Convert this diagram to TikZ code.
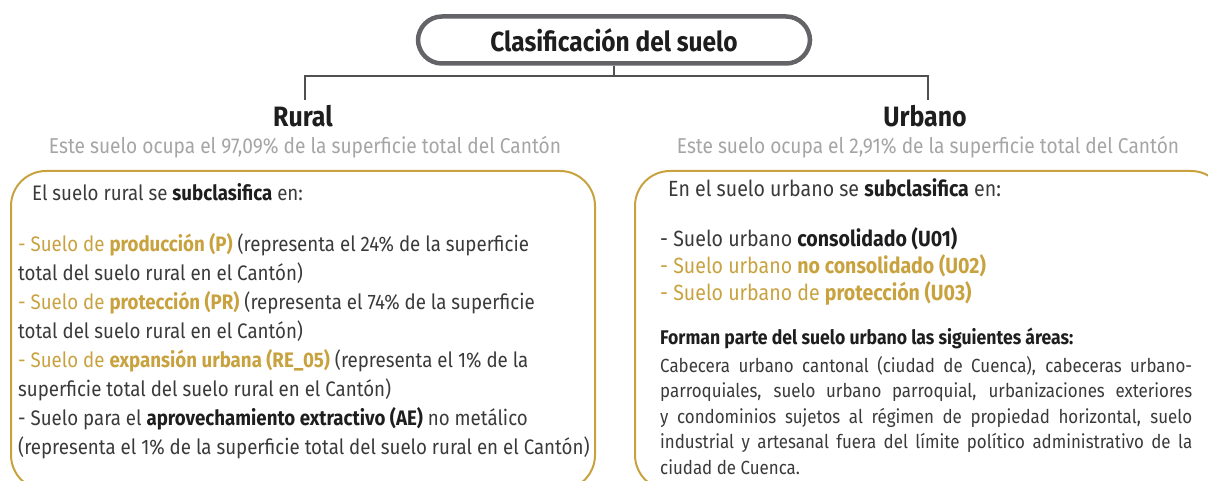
\documentclass[tikz,border=0pt]{standalone}
\usepackage{fontspec}
\setmainfont[FakeStretch=0.89]{Fira Sans}
\definecolor{gold}{RGB}{201,162,64}
\definecolor{framegray}{RGB}{100,100,104}
\definecolor{linegray}{RGB}{80,80,80}
\definecolor{bodygray}{RGB}{58,58,58}
\definecolor{subgray}{RGB}{165,165,165}
\definecolor{boldblack}{RGB}{30,30,30}
\tikzset{
  titlebox/.style={draw=framegray, line width=4.5pt, rounded corners=24pt, minimum width=392pt, minimum height=47pt, inner sep=0pt, font=\fontsize{27.5}{30}\selectfont\bfseries, text=boldblack},
  conn/.style={draw=linegray, line width=1.6pt},
  head/.style={inner sep=0pt, font=\fontsize{28}{32}\selectfont\bfseries, text=boldblack, anchor=base},
  sub/.style={inner sep=0pt, font=\fontsize{21.5}{24}\selectfont, text=subgray, anchor=base},
  goldframe/.style={draw=gold, line width=2pt, rounded corners=35pt},
  bodytxt/.style={inner sep=0pt, anchor=base west, align=left, text=bodygray}
}
\newcommand{\kb}[1]{\textcolor{boldblack}{\bfseries #1}}
\begin{document}
\begin{tikzpicture}[x=1pt,y=-1pt]
\useasboundingbox (0,0) rectangle (1208,481);
% title
\node[titlebox] (title) at (614,40) {Clasificación del suelo};
% connectors
\coordinate (j) at (613,76);
\coordinate (rt) at (305,100);
\coordinate (ut) at (928,100);
\draw[conn] (title.south) -- (title.south |- j);
\draw[conn] (rt) -- (rt |- j) -- (ut |- j) -- (ut);
% headers
\node[head] (rural) at (303,127) {Rural};
\node[head] (urbano) at (925,127) {Urbano};
\node[sub] (rsub) at (305,154) {Este suelo ocupa el 97,09\% de la superficie total del Cantón};
\node[sub] (usub) at (928,154) {Este suelo ocupa el 2,91\% de la superficie total del Cantón};
% frames
\begin{scope}
\clip (0,0) rectangle (1208,481);
\draw[goldframe] (11,171) rectangle (595,490);
\draw[goldframe] (635,171) rectangle (1226,490);
\end{scope}
% left box
\node[bodytxt, font=\fontsize{21}{28.86}\selectfont] (lhead) at (32,201) {El suelo rural se \kb{subclasifica} en:};
\node[bodytxt, font=\fontsize{21}{28.86}\selectfont] (llist) at (18,454) {%
\textcolor{gold}{- Suelo de \bfseries producción (P)} (representa el 24\% de la superficie\\
total del suelo rural en el Cantón)\\
\textcolor{gold}{- Suelo de \bfseries protección (PR)} (representa el 74\% de la superficie\\
total del suelo rural en el Cantón)\\
\textcolor{gold}{- Suelo de \bfseries expansión urbana (RE\_05)} (representa el 1\% de la\\
superficie total del suelo rural en el Cantón)\\
- Suelo para el \kb{aprovechamiento extractivo (AE)} no metálico\\
(representa el 1\% de la superficie total del suelo rural en el Cantón)};
% right box
\node[bodytxt, font=\fontsize{22}{27}\selectfont] (rhead) at (668,197) {En el suelo urbano se \kb{subclasifica} en:};
\node[bodytxt, font=\fontsize{22}{27}\selectfont] (rlist) at (660,300) {%
- Suelo urbano \kb{consolidado (U01)}\\
\textcolor{gold}{- Suelo urbano \bfseries no consolidado (U02)}\\
\textcolor{gold}{- Suelo urbano de \bfseries protección (U03)}};
\node[bodytxt, font=\fontsize{19.8}{22}\selectfont\bfseries, text=boldblack] (forman) at (660,344) {Forman parte del suelo urbano las siguientes áreas:};
\node[bodytxt, text width=532pt, align=justify, font=\fontsize{19}{25.5}\selectfont] (para) at (660,372) {%
Cabecera urbano cantonal (ciudad de Cuenca), cabeceras urbano-\linebreak
parroquiales, suelo urbano parroquial, urbanizaciones exteriores\linebreak
y condominios sujetos al régimen de propiedad horizontal, suelo\linebreak
industrial y artesanal fuera del límite político administrativo de la\linebreak
ciudad de Cuenca.};
\end{tikzpicture}
\end{document}
